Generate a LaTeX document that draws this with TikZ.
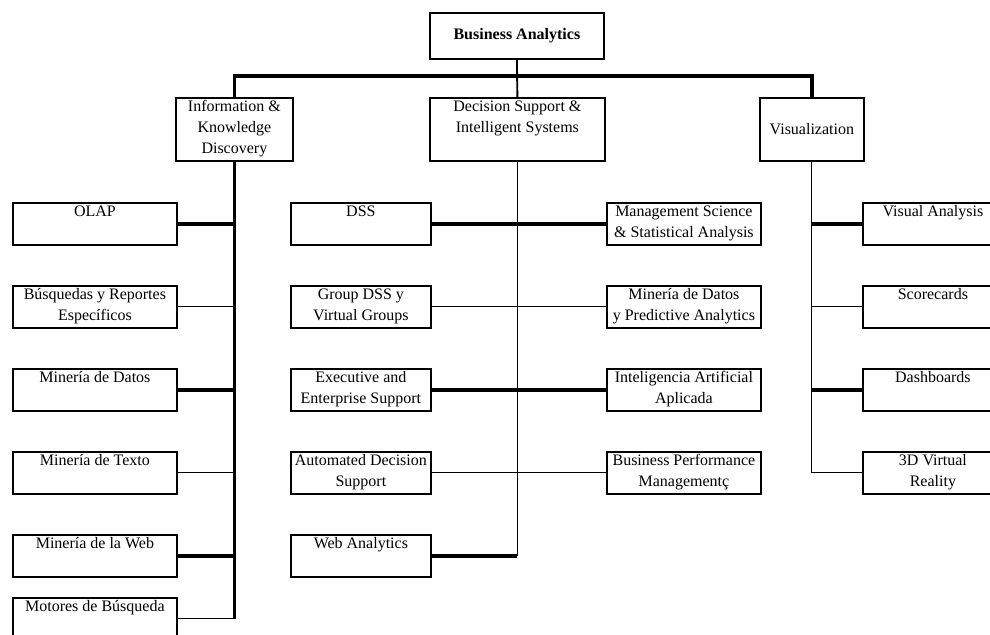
\documentclass[tikz,border=0pt]{standalone}
\usepackage{fontspec}
\setmainfont{Liberation Serif}
\usetikzlibrary{calc,positioning}
\newcommand{\chartfont}{\fontsize{12}{15.6}\selectfont}

\begin{document}
\begin{tikzpicture}[x=0.75pt,y=-0.75pt,
  every node/.style={font=\chartfont},
  bx/.style={draw,line width=1.35pt,inner sep=0pt,anchor=north west,minimum height=31.5pt},
  txt/.style={anchor=north,inner sep=0pt,align=center},
  thn/.style={line width=0.85pt},
  thk/.style={line width=2.4pt}]
  \useasboundingbox (0,0) rectangle (990,635);

  % top levels
  \node[bx,minimum width=130.5pt,minimum height=34.5pt,font=\chartfont\bfseries] (ba) at (429,12) {Business Analytics};
  \node[bx,minimum width=87.75pt,minimum height=47.25pt,label={[txt]north:\strut Information \&\\ Knowledge\\ Discovery}] (ikd) at (175,97) {};
  \node[bx,minimum width=131.25pt,minimum height=47.25pt,label={[txt]north:\strut Decision Support \&\\ Intelligent Systems}] (dsis) at (429,97) {};
  \node[bx,minimum width=78pt,minimum height=47.25pt] (vis) at (759,97) {Visualization};

  % left column
  \node[bx,minimum width=123pt,label={[txt]north:\strut OLAP}] (l1) at (12,202) {};
  \node[bx,minimum width=123pt,label={[txt]north:\strut Búsquedas y Reportes\\ Específicos}] (l2) at (12,285) {};
  \node[bx,minimum width=123pt,label={[txt]north:\strut Minería de Datos}] (l3) at (12,368) {};
  \node[bx,minimum width=123pt,label={[txt]north:\strut Minería de Texto}] (l4) at (12,451) {};
  \node[bx,minimum width=123pt,label={[txt]north:\strut Minería de la Web}] (l5) at (12,534) {};
  \node[bx,minimum width=123pt,label={[txt]north:\strut Motores de Búsqueda}] (l6) at (12,597) {};

  % middle, left side
  \node[bx,minimum width=105pt,label={[txt]north:\strut DSS}] (m1) at (290,202) {};
  \node[bx,minimum width=105pt,label={[txt]north:\strut Group DSS y\\ Virtual Groups}] (m2) at (290,285) {};
  \node[bx,minimum width=105pt,label={[txt]north:\strut Executive and\\ Enterprise Support}] (m3) at (290,368) {};
  \node[bx,minimum width=105pt,label={[txt]north:\strut Automated Decision\\ Support}] (m4) at (290,451) {};
  \node[bx,minimum width=105pt,label={[txt]north:\strut Web Analytics}] (m5) at (290,534) {};

  % middle, right side
  \node[bx,minimum width=115.5pt,label={[txt]north:\strut Management Science\\ \& Statistical Analysis}] (n1) at (606,202) {};
  \node[bx,minimum width=115.5pt,label={[txt]north:\strut Minería de Datos\\ y Predictive Analytics}] (n2) at (606,285) {};
  \node[bx,minimum width=115.5pt,label={[txt]north:\strut Inteligencia Artificial\\ Aplicada}] (n3) at (606,368) {};
  \node[bx,minimum width=115.5pt,label={[txt]north:\strut Business Performance\\ Managementç}] (n4) at (606,451) {};

  % right column
  \node[bx,minimum width=105pt,label={[txt]north:\strut Visual Analysis}] (v1) at (862,202) {};
  \node[bx,minimum width=105pt,label={[txt]north:\strut Scorecards}] (v2) at (862,285) {};
  \node[bx,minimum width=105pt,label={[txt]north:\strut Dashboards}] (v3) at (862,368) {};
  \node[bx,minimum width=105pt,label={[txt]north:\strut 3D Virtual\\ Reality}] (v4) at (862,451) {};

  % tree lines
  \coordinate (bar) at (517,76);
  \draw[line width=1.4pt] (ba.south) -- (dsis.north);
  \draw[thk] (ikd.north) -- (ikd.north |- bar) -- (vis.north |- bar) -- (vis.north);

  \draw[thk] (ikd.south) -- (ikd.south |- l6.east);
  \draw[thk] (l1.east) -- (l1.east -| ikd.south);
  \draw[thn] (l2.east) -- (l2.east -| ikd.south);
  \draw[thk] (l3.east) -- (l3.east -| ikd.south);
  \draw[thn] (l4.east) -- (l4.east -| ikd.south);
  \draw[thk] (l5.east) -- (l5.east -| ikd.south);
  \draw[thn] (l6.east) -- (l6.east -| ikd.south);

  \draw[thn] (dsis.south) -- (dsis.south |- m5.east);
  \draw[thk] (m1.east) -- (n1.west);
  \draw[thn] (m2.east) -- (n2.west);
  \draw[thk] (m3.east) -- (n3.west);
  \draw[thn] (m4.east) -- (n4.west);
  \draw[thk] (m5.east) -- (m5.east -| dsis.south);

  \draw[thn] (vis.south) -- (vis.south |- v4.west);
  \draw[thk] (v1.west) -- (v1.west -| vis.south);
  \draw[thn] (v2.west) -- (v2.west -| vis.south);
  \draw[thk] (v3.west) -- (v3.west -| vis.south);
  \draw[thn] (v4.west) -- (v4.west -| vis.south);
\end{tikzpicture}
\end{document}
